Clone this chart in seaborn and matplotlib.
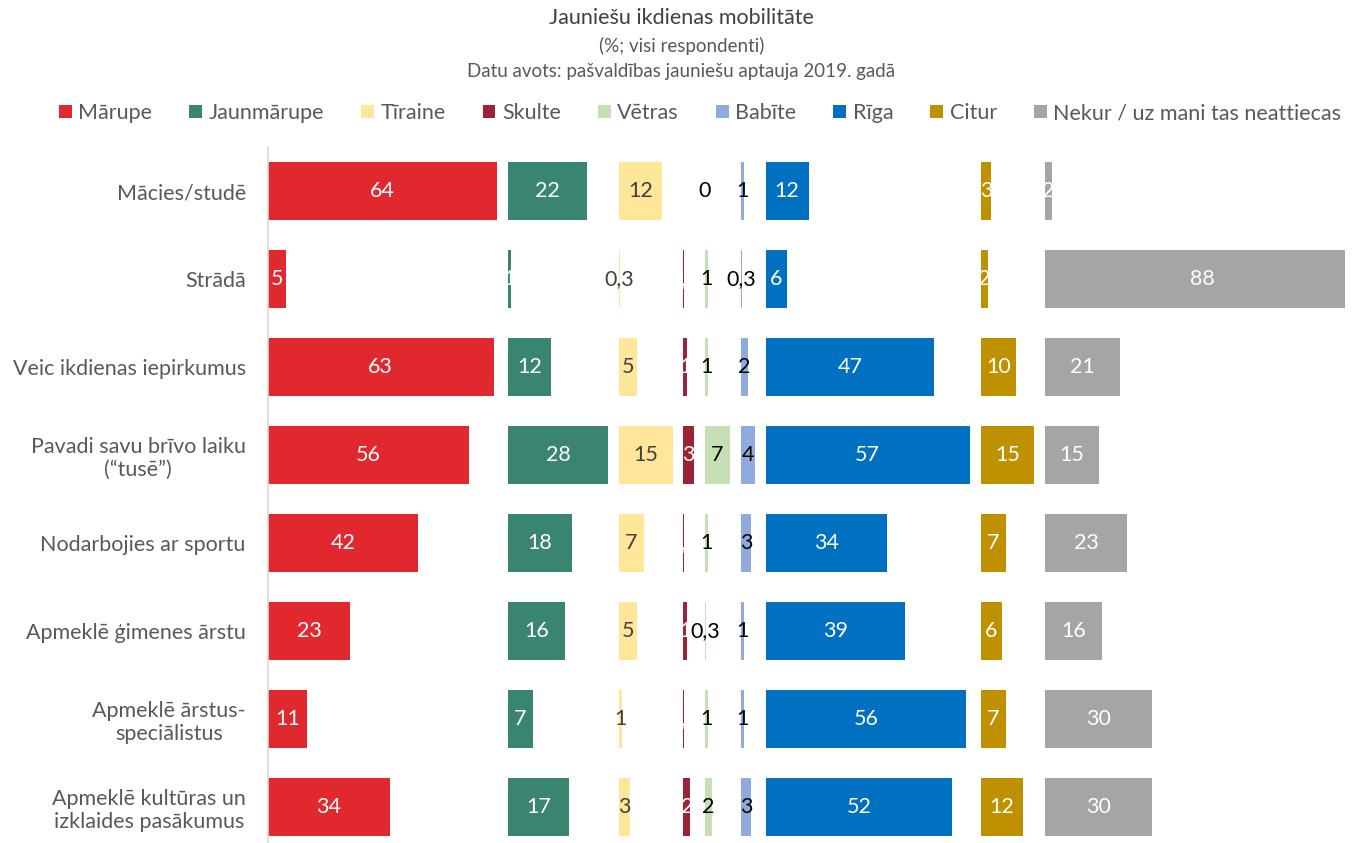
import matplotlib.pyplot as plt
import seaborn as sns

sns.set_theme(style="white")
plt.rcParams['font.family'] = ['Lato', 'DejaVu Sans']

# -----------------------------
# Data
# -----------------------------
activities = ["Mācies/studē", "Strādā", "Veic ikdienas iepirkumus",
              "Pavadi savu brīvo laiku\n(“tusē”)", "Nodarbojies ar sportu",
              "Apmeklē ģimenes ārstu", "Apmeklē ārstus-\nspeciālistus",
              "Apmeklē kultūras un\nizklaides pasākumus"]
places = ["Mārupe", "Jaunmārupe", "Tīraine", "Skulte", "Vētras",
          "Babīte", "Rīga", "Citur", "Nekur / uz mani tas neattiecas"]

marupe = [64, 5, 63, 56, 42, 23, 11, 34]
jaunmarupe = [22, 1, 12, 28, 18, 16, 7, 17]
tiraine = [12, 0.3, 5, 15, 7, 5, 1, 3]
skulte = [0, 0.3, 1, 3, 0.3, 1, 0.3, 2]
vetras = [0, 1, 1, 7, 1, 0.3, 1, 2]
babite = [1, 0.3, 2, 4, 3, 1, 1, 3]
riga = [12, 6, 47, 57, 34, 39, 56, 52]
citur = [3, 2, 10, 15, 7, 6, 7, 12]
nekur = [2, 88, 21, 15, 23, 16, 30, 30]

series = [marupe, jaunmarupe, tiraine, skulte, vetras, babite, riga, citur, nekur]
colors = ["#E0282E", "#3A8570", "#FFE699", "#9B2335", "#C5E0B4",
          "#8FAADC", "#0070C0", "#BF9000", "#A5A5A5"]
label_colors = ["white", "white", "#404040", "white", "black",
                "black", "white", "white", "white"]


def fmt(v):
    return f"{v:g}".replace(".", ",")


fig = plt.figure(figsize=(13.63, 8.43), dpi=100)
ax = fig.add_axes([268 / 1363, 1 - 851 / 843, (1345 - 268) / 1363, 704 / 843])

gap = 3
offset = 0
rows = list(range(len(activities)))
for vals, col, lcol, name in zip(series, colors, label_colors, places):
    ax.barh(rows, vals, left=offset, height=0.66, color=col, label=name,
            linewidth=0)
    for r, v in zip(rows, vals):
        ax.text(offset + v / 2, r, fmt(v), ha="center", va="center",
                color=lcol, fontsize=15.5)
    offset += max(vals) + gap

ax.set_xlim(0, 300.8)
ax.set_ylim(len(activities) - 0.5, -0.5)
ax.set_yticks(rows)
ax.set_yticklabels(activities, fontsize=15.5, color="#595959", multialignment="center")
ax.tick_params(axis="y", length=0, pad=16)
ax.set_xticks([])
for s in ["top", "right", "bottom"]:
    ax.spines[s].set_visible(False)
ax.spines["left"].set_color("#D9D9D9")
ax.spines["left"].set_linewidth(1.2)

handles, labels = ax.get_legend_handles_labels()
fig.legend(handles, labels, loc="center", bbox_to_anchor=(0.5136, 1 - 113 / 843),
           ncol=9, frameon=False, fontsize=15.5, labelcolor="#595959",
           handlelength=0.6, handleheight=0.6, handletextpad=0.3, columnspacing=1.72)

fig.text(0.5, 1 - 18 / 843, "Jauniešu ikdienas mobilitāte", ha="center", va="center",
         fontsize=15.5, color="#404040")
fig.text(0.5, 1 - 46 / 843, "(%; visi respondenti)", ha="center", va="center",
         fontsize=13.5, color="#595959")
fig.text(0.5, 1 - 72 / 843, "Datu avots: pašvaldības jauniešu aptauja 2019. gadā",
         ha="center", va="center", fontsize=13.5, color="#595959")

fig.savefig("out.png", dpi=100)
